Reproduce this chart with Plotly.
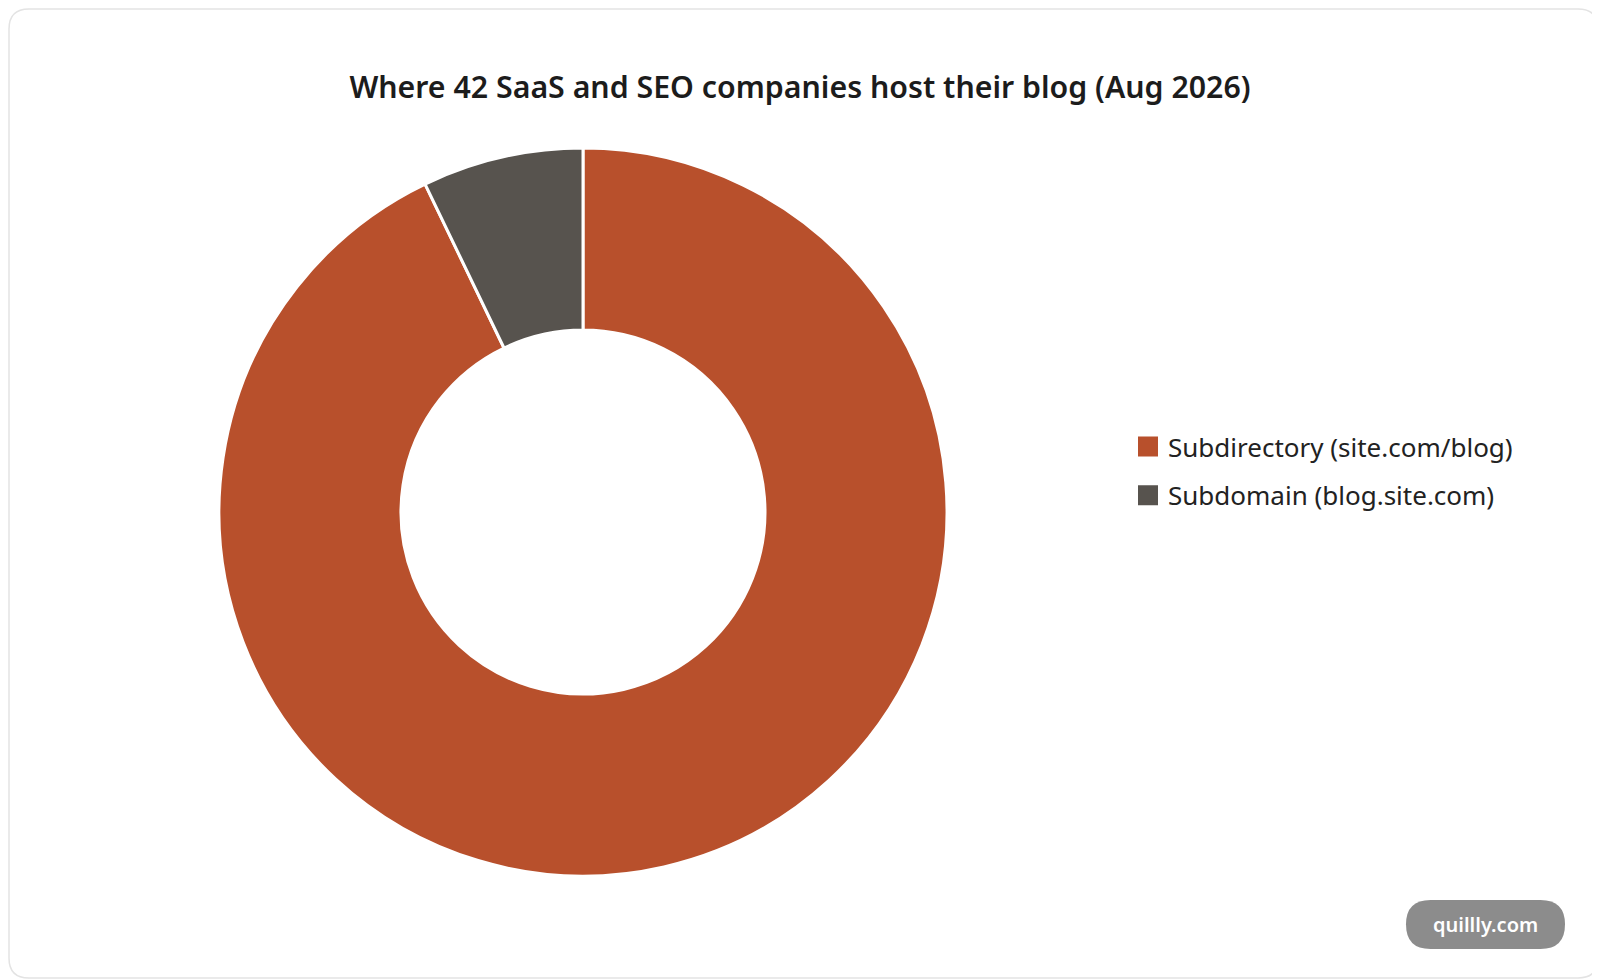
import plotly.graph_objects as go

W, H = 1600, 980
OFF = 8  # the html body margin shifts the figure by 8px

# data
labels = ["Subdirectory (site.com/blog)", "Subdomain (blog.site.com)"]
counts = [39, 3]
colors = ["#B8502C", "#57534E"]

title = "Where 42 SaaS and SEO companies host their blog (Aug 2026)"
font_name = "Noto Sans"


def px(x):
    # page pixels from left -> paper x
    return (x - OFF) / W


def py(y):
    # page pixels from top -> paper y
    return 1 - (y - OFF) / H


def rounded(x0, y0, x1, y1, r):
    # rounded rect path in paper coords, corners given in page pixels
    rx, ry = r / W, r / H
    X0, X1 = px(x0), px(x1)
    Y0, Y1 = py(y0), py(y1)
    return (f"M {X0+rx},{Y0} L {X1-rx},{Y0} Q {X1},{Y0} {X1},{Y0-ry} "
            f"L {X1},{Y1+ry} Q {X1},{Y1} {X1-rx},{Y1} L {X0+rx},{Y1} "
            f"Q {X0},{Y1} {X0},{Y1+ry} L {X0},{Y0-ry} Q {X0},{Y0} {X0+rx},{Y0} Z")


fig = go.Figure()

cx, cy, rad = 583, 512, 364
fig.add_trace(go.Pie(
    labels=labels, values=counts,
    marker=dict(colors=colors, line=dict(color="white", width=3)),
    hole=0.5, sort=False, direction="clockwise", rotation=0,
    textinfo="none", showlegend=False,
    domain=dict(x=[px(cx - rad), px(cx + rad)], y=[py(cy + rad), py(cy - rad)]),
))

# legend entries (so the spacing can be set)
for lab, col in zip(labels, colors):
    fig.add_trace(go.Scatter(
        x=[None], y=[None], mode="markers", name=lab, legendgroup=lab,
        marker=dict(symbol="square", size=16, color=col, line=dict(color=col, width=4)),
    ))

fig.update_xaxes(visible=False)
fig.update_yaxes(visible=False)

fig.add_shape(type="path", xref="paper", yref="paper",
              path=rounded(9, 9, 1598, 978, 20),
              line=dict(color="#E3E3E3", width=1.5), fillcolor="rgba(0,0,0,0)", layer="below")
fig.add_shape(type="path", xref="paper", yref="paper",
              path=rounded(1406, 900, 1565, 949, 24.5),
              line=dict(color="#8C8C8C", width=0), fillcolor="#8C8C8C")
fig.add_annotation(text="quillly.com", xref="paper", yref="paper",
                   x=px(1485.5), y=py(924.5), xanchor="center", yanchor="middle",
                   showarrow=False,
                   font=dict(family=font_name, size=20, weight=600, color="white"))

fig.update_layout(
    width=W, height=H,
    margin=dict(l=0, r=0, t=0, b=0),
    paper_bgcolor="white", plot_bgcolor="white",
    font=dict(family=font_name, color="#1E1E1E"),
    title=dict(text=title, x=px(800), xanchor="center", y=py(87), yanchor="middle",
               font=dict(family=font_name, size=30.3, weight=600, color="#1C1C1C")),
    legend=dict(x=px(1128), y=py(471), xanchor="left", yanchor="middle",
                font=dict(family=font_name, size=26, color="#222222"),
                tracegroupgap=12, itemwidth=30),
)

fig.write_html("out.html")
